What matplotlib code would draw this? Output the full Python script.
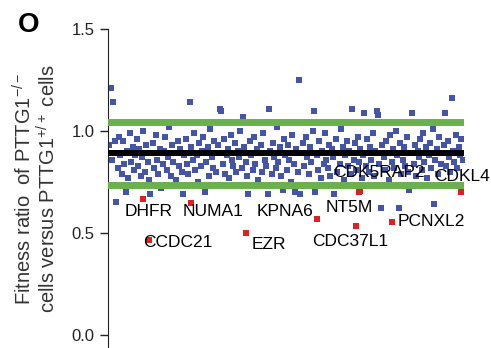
import matplotlib
matplotlib.use("Agg")
import matplotlib.pyplot as plt

plt.rcParams['font.family'] = ['Liberation Sans', 'DejaVu Sans']
plt.rcParams['mathtext.fontset'] = 'custom'
plt.rcParams['mathtext.rm'] = 'Liberation Sans'
plt.rcParams['mathtext.it'] = 'Liberation Sans'

# fitness ratios of all screened genes (blue), ordered as in the panel
ratios = [
    0.93, 1.21, 0.86, 1.14, 0.95, 0.65, 0.82, 0.97, 0.88, 0.79, 0.95, 0.84, 0.70, 0.90, 0.77, 0.99, 0.85, 0.92, 0.81, 0.88,
    0.96, 0.83, 0.91, 0.78, 0.87, 1.00, 0.80, 0.93, 0.85, 0.76, 0.69, 0.89, 0.94, 0.82, 0.98, 0.86, 0.79, 0.91, 0.72, 0.84,
    0.90, 0.97, 0.81, 0.87, 1.02, 0.78, 0.93, 0.85, 0.89, 0.76, 0.95, 0.83, 0.91, 0.80, 0.69, 0.88, 0.96, 0.84, 0.79, 1.14,
    0.92, 0.86, 0.99, 0.81, 0.88, 0.75, 0.94, 0.83, 0.90, 0.97, 0.70, 0.85, 0.92, 0.78, 1.01, 0.87, 0.82, 0.95, 0.80, 0.89,
    0.93, 1.11, 1.10, 0.84, 0.96, 0.79, 0.88, 0.91, 0.77, 0.98, 0.86, 0.83, 0.94, 0.80, 0.90, 0.87, 1.00, 0.82, 1.07, 0.92,
    0.85, 0.78, 0.69, 0.95, 0.88, 0.81, 0.97, 0.84, 0.91, 0.76, 0.89, 0.93, 0.80, 0.99, 0.86, 0.83, 0.69, 1.11, 0.90, 0.79,
    0.94, 0.87, 0.82, 1.02, 0.85, 0.92, 0.78, 0.71, 0.96, 0.88, 0.81, 0.93, 0.86, 0.75, 0.98, 0.84, 0.70, 0.91, 0.80, 1.25,
    0.69, 0.89, 0.94, 0.83, 0.97, 0.87, 0.79, 0.92, 0.85, 1.00, 1.10, 0.70, 0.88, 0.81, 0.95, 0.77, 0.90, 0.84, 0.99, 0.86,
    0.82, 0.93, 0.78, 0.91, 0.87, 0.69, 0.96, 0.80, 0.89, 0.84, 1.01, 0.92, 0.76, 0.88, 0.95, 0.83, 0.90, 0.79, 1.11, 0.86,
    0.94, 0.81, 0.97, 0.85, 0.91, 0.77, 0.88, 1.09, 0.83, 0.96, 0.80, 0.92, 0.86, 0.99, 0.78, 0.90, 1.10, 1.08, 0.84, 0.62,
    0.93, 0.87, 0.81, 0.95, 0.89, 0.76, 0.98, 0.85, 0.91, 0.82, 1.00, 0.88, 0.62, 0.94, 0.79, 0.86, 0.92, 0.83, 0.97, 0.80,
    0.71, 0.89, 1.09, 0.84, 0.93, 0.78, 0.90, 0.87, 0.96, 0.81, 0.99, 0.85, 0.92, 0.77, 0.88, 0.94, 0.82, 1.01, 0.64, 0.86,
    0.91, 0.79, 0.97, 0.84, 0.89, 0.93, 1.09, 0.83, 0.95, 0.87, 0.80, 1.16, 0.90, 0.85, 0.98, 0.82, 0.92, 0.88, 0.96, 0.86,
]
positions = list(range(1, len(ratios) + 1))

# hits (red) and where their labels sit
hit_genes = ["DHFR", "NUMA1", "CCDC21", "EZR", "KPNA6", "NT5M", "CDK5RAP2", "CDC37L1", "PCNXL2", "CDKL4"]
hit_pos = [26, 61, 30, 101, 153, 184, 185, 182, 208, 259]
hit_ratio = [0.667, 0.649, 0.466, 0.50, 0.568, 0.70, 0.705, 0.534, 0.555, 0.70]
label_x = [12.5, 55, 25.7, 105.6, 109, 159.8, 165, 150, 212.6, 239]
label_y = [0.603, 0.603, 0.451, 0.441, 0.603, 0.627, 0.794, 0.456, 0.554, 0.775]

mean_ratio = 0.893
upper_cut = 1.044
lower_cut = 0.735

fig = plt.figure(figsize=(4.91, 3.48), dpi=100)
ax = fig.add_axes([108 / 491, 0, 356 / 491, 319 / 348])

ax.scatter(positions, ratios, marker="s", s=18, color="#4455a8", linewidths=0, zorder=2)
ax.scatter(hit_pos, hit_ratio, marker="s", s=18, color="#e02020", linewidths=0, zorder=2)

# cut-offs and mean on top of the points
ax.axhline(upper_cut, color="#6ab04c", linewidth=5, zorder=3)
ax.axhline(lower_cut, color="#6ab04c", linewidth=5, zorder=3)
ax.axhline(mean_ratio, color="black", linewidth=4.3, zorder=3)

for g, x, y in zip(hit_genes, label_x, label_y):
    ax.text(x, y, g, fontsize=12.5, ha="left", va="center", color="black", zorder=4, clip_on=False)

ax.set_xlim(0, len(ratios) + 1)
ax.set_ylim(-0.064, 1.5)
ax.set_yticks([0.0, 0.5, 1.0, 1.5])
ax.set_yticklabels(["0.0", "0.5", "1.0", "1.5"])
ax.tick_params(axis="y", labelsize=12, length=6, width=1, direction="out", colors="#222222")
ax.tick_params(axis="x", bottom=False, labelbottom=False)
for s in ["top", "right", "bottom"]:
    ax.spines[s].set_visible(False)
ax.spines["left"].set_color("#222222")

fig.text(36 / 491, 0.457,
         "Fitness ratio  of PTTG1$^{-/-}$\ncells versus PTTG1$^{+/+}$ cells",
         rotation=90, ha="center", va="center", fontsize=14.5, color="#333333",
         multialignment="center", linespacing=1.0)

fig.text(18 / 491, 0.908, "O", fontsize=20, fontweight="bold", va="baseline", ha="left")

fig.savefig("out.png", dpi=100)
